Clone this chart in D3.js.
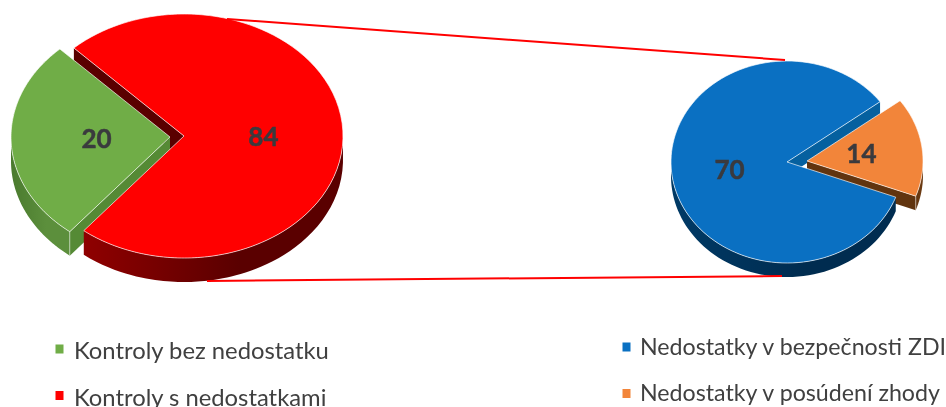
<!DOCTYPE html>
<html>
<head>
<meta charset="utf-8">
<script src="https://cdn.jsdelivr.net/npm/d3@7"></script>
<style>
  html, body { margin: 0; padding: 0; background: #fff; }
  svg { display: block; filter: blur(0.35px); }
  text { font-family: Lato, "Open Sans", sans-serif; }
</style>
</head>
<body>
<div id="okvir"></div>
<script>
const leftLabels = ["Kontroly bez nedostatku", "Kontroly s nedostatkami"]
const leftValues = [20, 84]
const leftColors = ["#70ad47", "#ff0000"]
const leftWalls = [["#4a7a2e", "#5c8f3c"], ["#8f0000", "#5a0000"]]

const rightLabels = ["Nedostatky v bezpečnosti ZDI", "Nedostatky v posúdení zhody"]
const rightValues = [70, 14]
const rightColors = ["#0a70c2", "#f2853a"]
const rightWalls = [["#003a66", "#002c50"], ["#61340f", "#6b3a12"]]

const rad = Math.PI / 180
const sirina = 946, visina = 407

const okvir = d3.select("#okvir").append("svg")
  .attr("width", sirina)
  .attr("height", visina)

const defs = okvir.append("defs")
const crta = d3.line()

// draws one pie, the exploded slice is moved by dx, dy
function crtajPitu(o) {
  const pita = d3.pie().sort(null)
    .startAngle(o.start * rad)
    .endAngle((o.start + 360) * rad)
  const dijelovi = pita(o.values)

  // foreshortening of the 3D view, moves angles away from the viewing axis
  const warp = a => a + o.warp * Math.sin(2 * (a - o.axis * rad))
  const tocka = (a, r, d) => [
    d.cx + r * o.rx * Math.sin(warp(a)),
    d.cy - r * o.ry * Math.cos(warp(a))
  ]
  const luk = (d, a0, a1) => d3.range(0, 121).map(i => a0 + (a1 - a0) * i / 120)

  const dio = dijelovi.map((p, i) => ({
    p,
    i,
    cx: o.cx + (i === o.exploded ? o.dx : 0),
    cy: o.cy + (i === o.exploded ? o.dy : 0)
  }))
  const spusti = t => [t[0], t[1] + o.depth]

  const g = okvir.append("g")

  function stijena(d, kutovi) {
    const id = "wall" + o.id + d.i
    const lg = defs.append("linearGradient").attr("id", id)
    lg.append("stop").attr("offset", "0%").attr("stop-color", o.walls[d.i][0])
    lg.append("stop").attr("offset", "60%").attr("stop-color", o.walls[d.i][1])
    const gore = kutovi.map(a => tocka(a, 1, d))
    g.append("path")
      .attr("d", crta(gore.concat(gore.map(spusti).reverse())) + "Z")
      .attr("fill", `url(#${id})`)
  }

  function rez(d, a) {
    const vrh = [d.cx, d.cy], rub = tocka(a, 1, d)
    g.append("path")
      .attr("d", crta([vrh, rub, spusti(rub), spusti(vrh)]) + "Z")
      .attr("fill", o.cut[d.i])
  }

  function vrh(d) {
    const rubovi = luk(d, d.p.startAngle, d.p.endAngle).map(a => tocka(a, 1, d))
    g.append("path")
      .attr("d", crta([[d.cx, d.cy]].concat(rubovi)) + "Z")
      .attr("fill", o.colors[d.i])
      .attr("stroke", "#fff")
      .attr("stroke-opacity", 0.65)
      .attr("stroke-width", 1)
      .attr("stroke-linejoin", "round")
  }

  const prednji = (d) => luk(d, d.p.startAngle, d.p.endAngle).filter(a => Math.cos(warp(a)) < 0)

  const glavni = dio[1 - o.exploded], izdvojen = dio[o.exploded]

  // painter's order: back cut of the main slice, exploded slice, front of the main slice
  rez(glavni, o.backCut === "end" ? glavni.p.endAngle : glavni.p.startAngle)
  const izdvojenRub = o.exploded === 0 ? izdvojen.p.startAngle : izdvojen.p.endAngle
  rez(izdvojen, izdvojenRub)
  stijena(izdvojen, prednji(izdvojen))
  const t = tocka(izdvojenRub, 1, izdvojen)
  g.append("line")
    .attr("x1", t[0]).attr("y1", t[1])
    .attr("x2", t[0]).attr("y2", t[1] + o.depth)
    .attr("stroke", "#fff").attr("stroke-opacity", 0.5)
  vrh(izdvojen)
  stijena(glavni, prednji(glavni))
  vrh(glavni)

  // value labels
  dio.forEach(d => {
    const a = (d.p.startAngle + d.p.endAngle) / 2
    const [x, y] = tocka(a, o.labelR, d)
    g.append("text")
      .attr("x", x + o.labelShift[d.i][0])
      .attr("y", y + o.labelShift[d.i][1])
      .attr("text-anchor", "middle")
      .attr("dy", "0.35em")
      .attr("font-size", 26)
      .attr("font-weight", 700)
      .attr("stroke", "#3a3a3e")
      .attr("stroke-width", 0.5)
      .attr("fill", "#3a3a3e")
      .text(o.values[d.i])
  })
}

crtajPitu({
  id: "L", values: leftValues, colors: leftColors, walls: leftWalls,
  cut: ["#558a35", "#5a0000"],
  cx: 184, cy: 136, rx: 159, ry: 122, depth: 24,
  start: -127, axis: -92.4, warp: 0.26,
  exploded: 0, dx: -14, dy: 1, backCut: "start",
  labelR: 0.5, labelShift: [[6, -1], [0, 3]]
})

crtajPitu({
  id: "R", values: rightValues, colors: rightColors, walls: rightWalls,
  cut: ["#05609f", "#61340f"],
  cx: 787, cy: 162, rx: 116, ry: 101, depth: 14,
  start: 111.85, axis: 81.85, warp: -0.03,
  exploded: 1, dx: 20, dy: -1, backCut: "end",
  labelR: 0.5, labelShift: [[0, 1], [-3, 0]]
})

// leader lines between the pies
const spojnice = [[[227, 19], [785, 60]], [[207, 281], [782, 276]]]
okvir.selectAll(".spojnica")
  .data(spojnice)
  .enter().append("path")
  .attr("class", "spojnica")
  .attr("d", crta)
  .attr("stroke", "#ff0000")
  .attr("stroke-width", 2)
  .attr("fill", "none")

// legends
function crtajLegendu(labels, colors, x, yPos, tekstX, tekstY, velicina) {
  const y = d3.scalePoint().domain(labels).range(yPos)
  const red = okvir.append("g").selectAll("g")
    .data(labels)
    .enter().append("g")
    .attr("transform", d => `translate(${x},${y(d)})`)
  red.append("rect")
    .attr("x", 0).attr("y", -4.5)
    .attr("width", 8).attr("height", 9)
    .attr("fill", (d, i) => colors[i])
  red.append("text")
    .attr("x", tekstX)
    .attr("y", tekstY)
    .attr("font-size", velicina)
    .attr("fill", "#404040")
    .text(d => d)
}
crtajLegendu(leftLabels, leftColors, 55.5, [349, 395.5], 18.5, 10, 23.8)
crtajLegendu(rightLabels, rightColors, 622.5, [347, 393.5], 17.5, 7.5, 23.2)
</script>
</body>
</html>
